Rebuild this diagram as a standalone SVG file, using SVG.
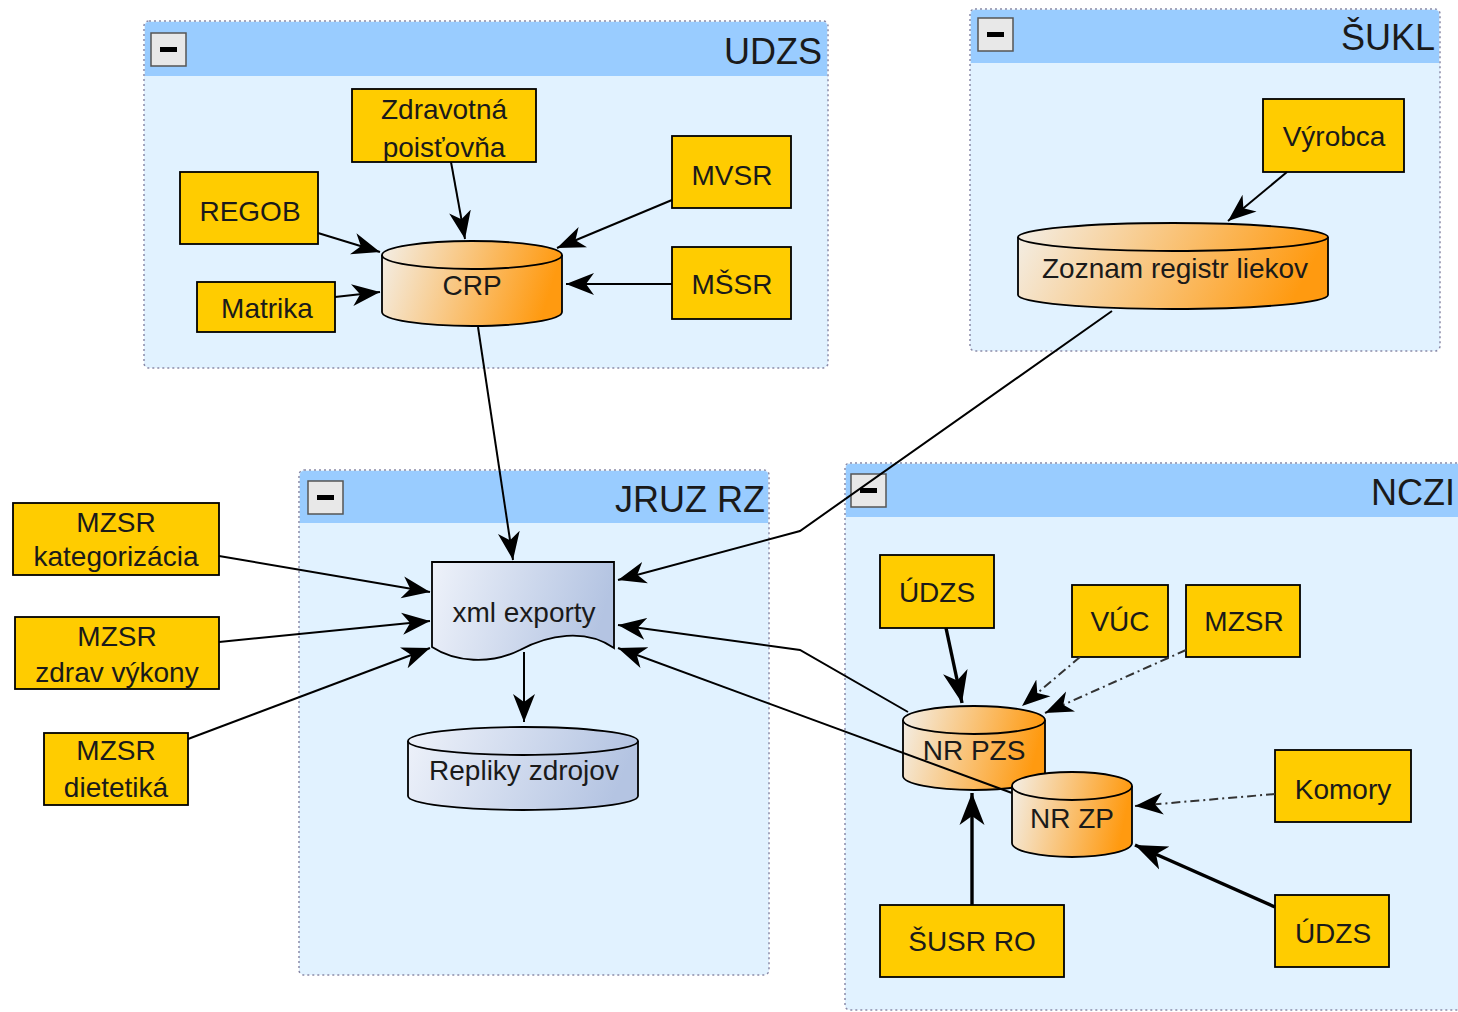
<svg xmlns="http://www.w3.org/2000/svg" width="1458" height="1012" viewBox="0 0 1458 1012">
<style>
.grp{fill:#e1f2ff;stroke:#8a8aa8;stroke-width:1.5;stroke-dasharray:2,3}
.hdr{fill:#99ccff}
.btn{fill:#e8e8e8;stroke:#555;stroke-width:1.5}
.bar{fill:#000}
.title{font-family:"Liberation Sans",Arial,sans-serif;font-size:36px;fill:#1a1a1a;text-anchor:end}
.box{fill:#ffcc00;stroke:#000;stroke-width:1.8}
.lbl{font-family:"Liberation Sans",Arial,sans-serif;font-size:28px;fill:#1a1a1a;text-anchor:middle}
.cylo{fill:url(#gOr);stroke:#000;stroke-width:1.8}
.cylb{fill:url(#gBl);stroke:#000;stroke-width:1.8}
.top{fill:none;stroke:#000;stroke-width:1.8}
.e{fill:none;stroke:#000;stroke-width:2;marker-end:url(#arr)}
.ek{fill:none;stroke:#000;stroke-width:3.4;marker-end:url(#arrk)}
.ed{fill:none;stroke:#333;stroke-width:2;stroke-dasharray:9,4,2,4;marker-end:url(#arr)}
</style>
<defs>
<linearGradient id="gOr" x1="0" y1="0" x2="1" y2="0.15">
<stop offset="0" stop-color="#f3efe8"/>
<stop offset="1" stop-color="#ff9a10"/>
</linearGradient>
<linearGradient id="gBl" x1="0" y1="0" x2="1" y2="0.15">
<stop offset="0" stop-color="#eef2fa"/>
<stop offset="1" stop-color="#b4c4e2"/>
</linearGradient>
<marker id="arr" markerUnits="userSpaceOnUse" markerWidth="30" markerHeight="24" viewBox="0 0 30 24" refX="28" refY="12" orient="auto">
<path d="M0,1 L28,12 L0,23 L8,12 Z" fill="#000"/>
</marker>
<marker id="arrk" markerUnits="userSpaceOnUse" markerWidth="33" markerHeight="27" viewBox="0 0 33 27" refX="32" refY="13.5" orient="auto">
<path d="M0,1 L32,13.5 L0,26 L9,13.5 Z" fill="#000"/>
</marker>
</defs>

<!-- groups -->
<g id="grp-udzs">
<rect class="grp" x="144" y="21" width="684" height="347" rx="5"/>
<path class="hdr" d="M145,26 Q145,22 149,22 H823 Q827,22 827,26 V76 H145 Z"/>
<rect class="btn" x="151" y="33" width="35" height="33"/>
<rect class="bar" x="160" y="47" width="17" height="5"/>
<text class="title" x="822" y="64">UDZS</text>
</g>
<g id="grp-sukl">
<rect class="grp" x="970" y="9" width="470" height="342" rx="5"/>
<path class="hdr" d="M971,14 Q971,10 975,10 H1435 Q1439,10 1439,14 V63 H971 Z"/>
<rect class="btn" x="978" y="18" width="35" height="33"/>
<rect class="bar" x="987" y="32" width="17" height="5"/>
<text class="title" x="1435" y="50">ŠUKL</text>
</g>
<g id="grp-jruz">
<rect class="grp" x="299" y="470" width="470" height="505" rx="5"/>
<path class="hdr" d="M300,475 Q300,471 304,471 H764 Q768,471 768,475 V523 H300 Z"/>
<rect class="btn" x="308" y="481" width="35" height="33"/>
<rect class="bar" x="317" y="495" width="17" height="5"/>
<text class="title" x="765" y="512">JRUZ RZ</text>
</g>
<g id="grp-nczi">
<rect class="grp" x="845" y="463" width="620" height="547" rx="5"/>
<path class="hdr" d="M846,468 Q846,464 850,464 H1458 V517 H846 Z"/>
<rect class="btn" x="851" y="474" width="35" height="33"/>
<rect class="bar" x="860" y="488" width="17" height="5"/>
<text class="title" x="1455" y="505">NCZI</text>
</g>

<!-- nodes UDZS -->
<g id="n-zdrav">
<rect class="box" x="352" y="89" width="184" height="73"/>
<text class="lbl" x="444" y="119">Zdravotná</text>
<text class="lbl" x="444" y="157">poisťovňa</text>
</g>
<g id="n-regob">
<rect class="box" x="180" y="172" width="138" height="72"/>
<text class="lbl" x="250" y="221">REGOB</text>
</g>
<g id="n-mvsr">
<rect class="box" x="672" y="136" width="119" height="72"/>
<text class="lbl" x="732" y="185">MVSR</text>
</g>
<g id="n-mssr">
<rect class="box" x="672" y="247" width="119" height="72"/>
<text class="lbl" x="732" y="294">MŠSR</text>
</g>
<g id="n-matrika">
<rect class="box" x="197" y="282" width="138" height="50"/>
<text class="lbl" x="267" y="318">Matrika</text>
</g>
<g id="n-crp">
<path class="cylo" d="M382,255 A90,14 0 0 1 562,255 V312 A90,14 0 0 1 382,312 Z"/>
<path class="top" d="M382,255 A90,14 0 0 0 562,255"/>
<text class="lbl" x="472" y="295">CRP</text>
</g>

<!-- nodes SUKL -->
<g id="n-vyrobca">
<rect class="box" x="1263" y="99" width="141" height="73"/>
<text class="lbl" x="1334" y="146">Výrobca</text>
</g>
<g id="n-zoznam">
<path class="cylo" d="M1018,237 A155,14 0 0 1 1328,237 V295 A155,14 0 0 1 1018,295 Z"/>
<path class="top" d="M1018,237 A155,14 0 0 0 1328,237"/>
<text class="lbl" x="1175" y="278">Zoznam registr liekov</text>
</g>

<!-- nodes JRUZ -->
<g id="n-xml">
<path class="cylb" d="M432,562 H614 V648 C585,628 548,635 520,650 C490,665 455,662 432,647 Z"/>
<text class="lbl" x="524" y="622">xml exporty</text>
</g>
<g id="n-repliky">
<path class="cylb" d="M408,741 A115,14 0 0 1 638,741 V796 A115,14 0 0 1 408,796 Z"/>
<path class="top" d="M408,741 A115,14 0 0 0 638,741"/>
<text class="lbl" x="524" y="780">Repliky zdrojov</text>
</g>

<!-- outside nodes -->
<g id="n-mzsr-kat">
<rect class="box" x="13" y="503" width="206" height="72"/>
<text class="lbl" x="116" y="532">MZSR</text>
<text class="lbl" x="116" y="566">kategorizácia</text>
</g>
<g id="n-mzsr-zdrav">
<rect class="box" x="15" y="617" width="204" height="72"/>
<text class="lbl" x="117" y="646">MZSR</text>
<text class="lbl" x="117" y="682">zdrav výkony</text>
</g>
<g id="n-mzsr-diet">
<rect class="box" x="44" y="733" width="144" height="72"/>
<text class="lbl" x="116" y="760">MZSR</text>
<text class="lbl" x="116" y="797">dietetiká</text>
</g>

<!-- nodes NCZI -->
<g id="n-udzs1">
<rect class="box" x="880" y="555" width="114" height="73"/>
<text class="lbl" x="937" y="602">ÚDZS</text>
</g>
<g id="n-vuc">
<rect class="box" x="1072" y="585" width="96" height="72"/>
<text class="lbl" x="1120" y="631">VÚC</text>
</g>
<g id="n-mzsr">
<rect class="box" x="1186" y="585" width="114" height="72"/>
<text class="lbl" x="1244" y="631">MZSR</text>
</g>
<g id="n-nrpzs">
<path class="cylo" d="M903,720 A71,14 0 0 1 1045,720 V776 A71,14 0 0 1 903,776 Z"/>
<path class="top" d="M903,720 A71,14 0 0 0 1045,720"/>
<text class="lbl" x="974" y="760">NR PZS</text>
</g>
<g id="n-nrzp">
<path class="cylo" d="M1012,786 A60,14 0 0 1 1132,786 V843 A60,14 0 0 1 1012,843 Z"/>
<path class="top" d="M1012,786 A60,14 0 0 0 1132,786"/>
<text class="lbl" x="1072" y="828">NR ZP</text>
</g>
<g id="n-komory">
<rect class="box" x="1275" y="750" width="136" height="72"/>
<text class="lbl" x="1343" y="799">Komory</text>
</g>
<g id="n-udzs2">
<rect class="box" x="1275" y="895" width="114" height="72"/>
<text class="lbl" x="1333" y="943">ÚDZS</text>
</g>
<g id="n-susr">
<rect class="box" x="880" y="905" width="184" height="72"/>
<text class="lbl" x="972" y="951">ŠUSR RO</text>
</g>

<!-- connectors -->
<g id="edges">
<path class="e" d="M451,162 L465,239"/>
<path class="e" d="M318,233 L380,252"/>
<path class="e" d="M335,297 L380,292"/>
<path class="e" d="M672,200 L557,248"/>
<path class="e" d="M672,284 L566,284"/>
<path class="e" d="M478,327 L513,560"/>
<path class="e" d="M1287,172 L1228,221"/>
<path class="e" d="M1112,311 L800,531 L618,580"/>
<path class="e" d="M219,556 L430,592"/>
<path class="e" d="M219,642 L430,621"/>
<path class="e" d="M188,739 L430,648"/>
<path class="e" d="M524,652 L524,722"/>
<path class="e" d="M908,712 L800,650 L618,625"/>
<path class="e" d="M1012,793 L618,648"/>
<path class="ek" d="M946,628 L962,703"/>
<path class="ed" d="M1080,657 L1022,706"/>
<path class="ed" d="M1186,650 L1045,713"/>
<path class="ed" d="M1275,794 L1135,806"/>
<path class="ek" d="M1275,907 L1135,845"/>
<path class="ek" d="M972,905 L972,793"/>
</g>
</svg>
